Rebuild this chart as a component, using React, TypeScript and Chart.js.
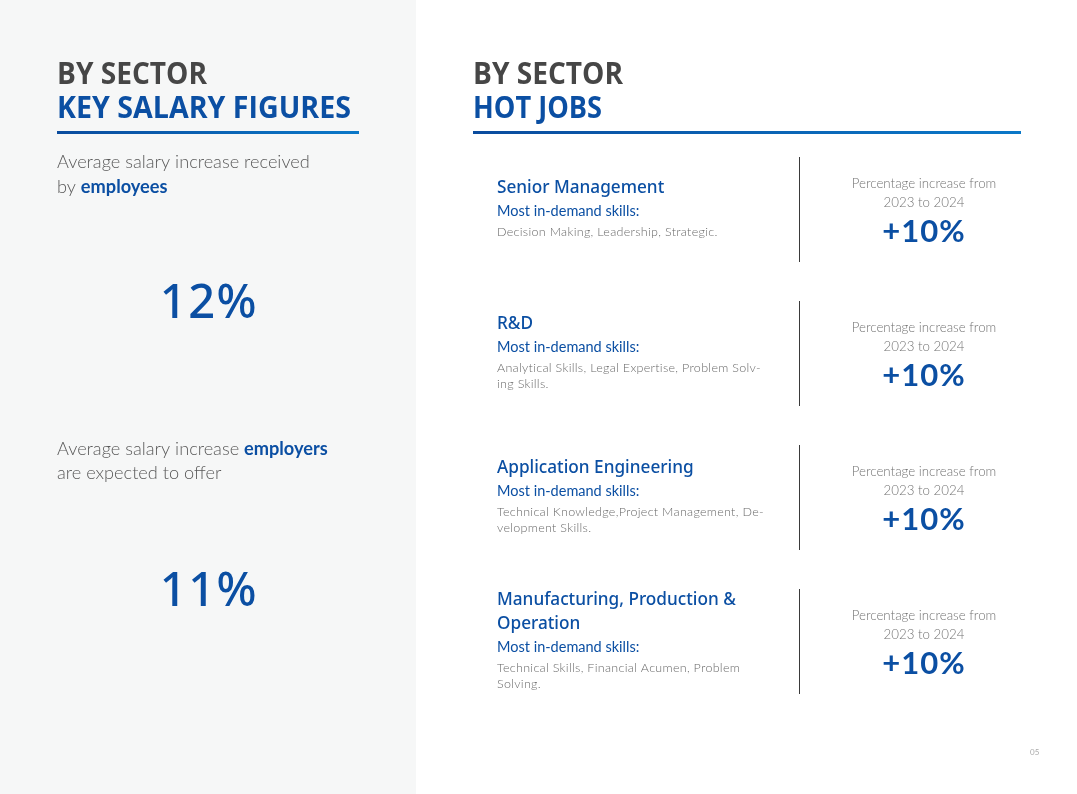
import React, { useEffect, useRef } from "react";
import { Chart, registerables } from "chart.js";

Chart.register(...registerables);

// ---------- data ----------
const pageKicker = "BY SECTOR";
const leftTitle = "KEY SALARY FIGURES";
const rightTitle = "HOT JOBS";
const salaryLabels = ["Received by employees", "Expected offer by employers"];
const salaryValues = [12, 11];
const jobCategories = ["Senior Management", "R&D", "Application Engineering", "Manufacturing, Production & Operation"];
const jobTitleLines = [
  ["Senior Management"],
  ["R&D"],
  ["Application Engineering"],
  ["Manufacturing, Production &", "Operation"],
];
const skillsHeading = "Most in-demand skills:";
const jobSkillLines = [
  ["Decision Making, Leadership, Strategic."],
  ["Analytical Skills, Legal Expertise, Problem Solv-", "ing Skills."],
  ["Technical Knowledge,Project Management, De-", "velopment Skills."],
  ["Technical Skills, Financial Acumen, Problem", "Solving."],
];
const jobIncrease = [10, 10, 10, 10];
const increaseCaption = ["Percentage increase from", "2023 to 2024"];
const pageNumber = "05";

// ---------- style ----------
const BLUE = "#0b4fa3";
const DARK = "#464646";
const BODY = "#595959";
const SKILL = "#6a6a6a";
const CAP = "#737373";
const BODY_FONT = "Lato, 'Open Sans', sans-serif";
const MED_FONT = "'Noto Sans', 'Open Sans', sans-serif";
const HEAD_FONT = "'Open Sans', 'Noto Sans', sans-serif";

type Seg = { t: string; bold?: boolean };

function drawSegs(ctx: CanvasRenderingContext2D, segs: Seg[], x: number, y: number, size: number) {
  let cx = x;
  for (const s of segs) {
    ctx.font = s.bold ? `700 ${size}px ${BODY_FONT}` : `300 ${size}px ${BODY_FONT}`;
    ctx.fillStyle = s.bold ? BLUE : BODY;
    ctx.fillText(s.t, cx, y);
    cx += ctx.measureText(s.t).width;
  }
}

function drawFit(ctx: CanvasRenderingContext2D, text: string, x: number, y: number, w: number) {
  const m = ctx.measureText(text).width;
  ctx.save();
  ctx.translate(x, y);
  ctx.scale(w / m, 1);
  ctx.fillText(text, 0, 0);
  ctx.restore();
}

const pagePlugin = {
  id: "pageLayout",
  beforeDraw(chart: any) {
    const ctx: CanvasRenderingContext2D = chart.ctx;
    ctx.save();
    ctx.fillStyle = "#ffffff";
    ctx.fillRect(0, 0, chart.width, chart.height);
    ctx.fillStyle = "#f6f7f7";
    ctx.fillRect(0, 0, 416, chart.height);
    ctx.restore();
  },
  afterDraw(chart: any) {
    const ctx: CanvasRenderingContext2D = chart.ctx;
    ctx.save();
    ctx.textBaseline = "alphabetic";
    ctx.textAlign = "left";

    // headings
    ctx.font = `700 30px ${HEAD_FONT}`;
    ctx.fillStyle = DARK;
    drawFit(ctx, pageKicker, 57, 84, 150);
    drawFit(ctx, pageKicker, 473, 84, 150);
    ctx.fillStyle = BLUE;
    drawFit(ctx, leftTitle, 57, 118, 294);
    drawFit(ctx, rightTitle, 473, 118, 129);

    const grad1 = ctx.createLinearGradient(57, 0, 359, 0);
    grad1.addColorStop(0, "#0a4c9e");
    grad1.addColorStop(1, "#0a78c8");
    ctx.fillStyle = grad1;
    ctx.fillRect(57, 131, 302, 3);
    const grad2 = ctx.createLinearGradient(473, 0, 1021, 0);
    grad2.addColorStop(0, "#0a4c9e");
    grad2.addColorStop(1, "#0a78c8");
    ctx.fillStyle = grad2;
    ctx.fillRect(473, 131, 548, 3);

    // left panel
    drawSegs(ctx, [{ t: "Average salary increase received" }], 57, 168, 18.2);
    drawSegs(ctx, [{ t: "by " }, { t: "employees", bold: true }], 57, 193, 18.2);
    drawSegs(ctx, [{ t: "Average salary increase " }, { t: "employers", bold: true }], 57, 455, 18.2);
    drawSegs(ctx, [{ t: "are expected to offer" }], 57, 479, 18.2);

    ctx.textAlign = "center";
    ctx.fillStyle = BLUE;
    ctx.font = `500 47px ${MED_FONT}`;
    (ctx as any).letterSpacing = "1.5px";
    ctx.fillText(`${salaryValues[0]}%`, 209, 318);
    ctx.fillText(`${salaryValues[1]}%`, 209, 606);
    (ctx as any).letterSpacing = "0px";

    // jobs rows positioned by y scale
    const ys = chart.scales.y;
    jobCategories.forEach((_, i) => {
      const cy = ys.getPixelForValue(i);
      type L = { text: string; kind: "title" | "sub" | "skill" };
      const lines: L[] = [];
      jobTitleLines[i].forEach((t) => lines.push({ text: t, kind: "title" }));
      lines.push({ text: skillsHeading, kind: "sub" });
      jobSkillLines[i].forEach((t) => lines.push({ text: t, kind: "skill" }));
      const offs: number[] = [0];
      for (let k = 1; k < lines.length; k++) {
        const a = lines[k - 1].kind, b = lines[k].kind;
        let g = 16.5;
        if (a === "title" && b === "title") g = 24;
        else if (a === "title" && b === "sub") g = 23;
        else if (a === "sub" && b === "skill") g = 20.5;
        offs.push(offs[k - 1] + g);
      }
      const span = offs[offs.length - 1];
      ctx.textAlign = "left";
      ctx.textBaseline = "middle";
      lines.forEach((l, k) => {
        const y = cy - span / 2 + offs[k];
        if (l.kind === "title") {
          ctx.font = `500 17.2px ${MED_FONT}`;
          ctx.fillStyle = BLUE;
          ctx.fillText(l.text, 497, y);
        } else if (l.kind === "sub") {
          ctx.font = `400 14.5px ${BODY_FONT}`;
          ctx.fillStyle = BLUE;
          ctx.fillText(l.text, 497, y);
        } else {
          ctx.font = `300 12.5px ${BODY_FONT}`;
          (ctx as any).letterSpacing = "0.3px";
          ctx.fillStyle = SKILL;
          ctx.fillText(l.text, 497, y);
          (ctx as any).letterSpacing = "0px";
        }
      });

      // divider
      ctx.strokeStyle = "#3a3a3a";
      ctx.lineWidth = 1;
      ctx.beginPath();
      ctx.moveTo(799.5, cy - 53);
      ctx.lineTo(799.5, cy + 52);
      ctx.stroke();

      // increase block
      ctx.textAlign = "center";
      ctx.font = `300 13.3px ${BODY_FONT}`;
      ctx.fillStyle = CAP;
      ctx.fillText(increaseCaption[0], 924, cy - 26);
      ctx.fillText(increaseCaption[1], 924, cy - 7);
      ctx.font = `700 31px ${BODY_FONT}`;
      ctx.fillStyle = BLUE;
      (ctx as any).letterSpacing = "1px";
      ctx.fillText(`+${jobIncrease[i]}%`, 924, cy + 22);
      (ctx as any).letterSpacing = "0px";
    });

    // page number
    ctx.textAlign = "left";
    ctx.textBaseline = "middle";
    ctx.font = `400 8px ${BODY_FONT}`;
    ctx.fillStyle = "#aaaaaa";
    ctx.fillText(pageNumber, 1030, 752);
    ctx.restore();
  },
};

export default function App() {
  const ref = useRef<HTMLCanvasElement | null>(null);
  useEffect(() => {
    document.body.style.margin = "0";
    const canvas = ref.current;
    if (!canvas) return;
    const chart = new Chart(canvas, {
      type: "bar",
      data: {
        labels: jobCategories,
        datasets: [
          {
            label: "Increase 2023 to 2024 (%)",
            data: jobIncrease,
            backgroundColor: "rgba(0,0,0,0)",
            borderWidth: 0,
          },
        ],
      },
      options: {
        indexAxis: "y",
        responsive: false,
        animation: false,
        events: [],
        layout: { padding: { top: 138, bottom: 80, left: 473, right: 56 } },
        scales: {
          x: { display: false, min: 0, max: 100 },
          y: { display: false },
        },
        plugins: { legend: { display: false }, tooltip: { enabled: false }, title: { display: false } },
      },
      plugins: [pagePlugin],
    });
    void salaryLabels;
    return () => chart.destroy();
  }, []);
  return (
    <div style={{ width: 1077, height: 794, position: "relative" }}>
      <canvas ref={ref} width={1077} height={794} style={{ display: "block" }} />
    </div>
  );
}
